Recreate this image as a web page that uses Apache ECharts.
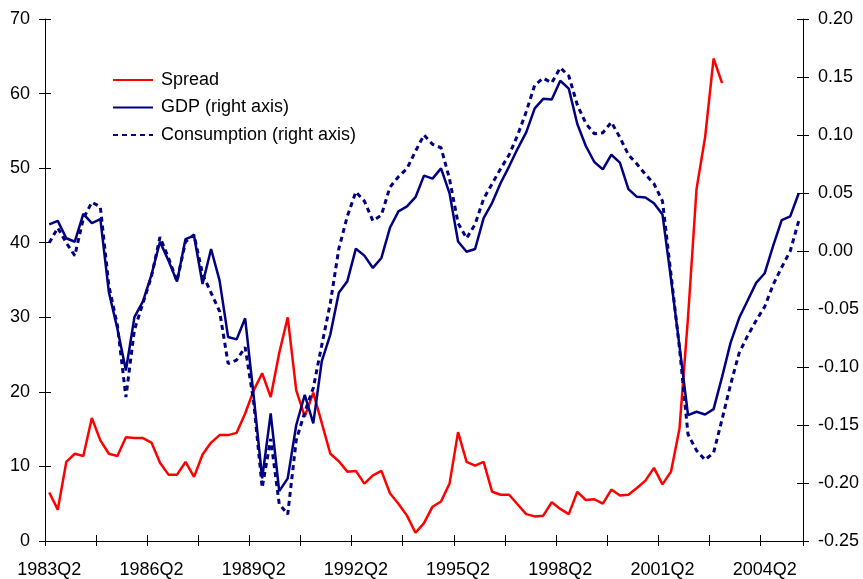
<!DOCTYPE html>
<html>
<head>
<meta charset="utf-8">
<script src="https://cdn.jsdelivr.net/npm/echarts@6/dist/echarts.min.js"></script>
<style>
html,body{margin:0;padding:0;background:#fff;}
#chart{width:863px;height:579px;}
</style>
</head>
<body>
<div id="chart"></div>
<script>
// Quarter categories 1983Q2 .. 2005Q2
const quarters = [];
for (let y = 1983; y <= 2005; y++) {
  for (let q = 1; q <= 4; q++) {
    if (y === 1983 && q < 2) continue;
    if (y === 2005 && q > 2) continue;
    quarters.push(y + 'Q' + q);
  }
}
const leftTicks = [0, 10, 20, 30, 40, 50, 60, 70];
const rightTicks = [-0.25, -0.20, -0.15, -0.10, -0.05, 0.00, 0.05, 0.10, 0.15, 0.20];

const spread = [6.5, 4.2, 10.6, 11.7, 11.4, 16.5, 13.5, 11.7, 11.4, 13.9,
  13.8, 13.8, 13.2, 10.5, 8.9, 8.9, 10.6, 8.6, 11.6, 13.2,
  14.2, 14.2, 14.5, 17.1, 20.2, 22.5, 19.3, 25.2, 30.0, 20.2,
  16.7, 19.9, 15.8, 11.7, 10.7, 9.3, 9.4, 7.7, 8.8, 9.4,
  6.4, 5.0, 3.4, 1.1, 2.4, 4.6, 5.3, 7.7, 14.6, 10.6,
  10.1, 10.6, 6.6, 6.2, 6.2, 4.9, 3.6, 3.3, 3.4, 5.2,
  4.3, 3.6, 6.6, 5.5, 5.6, 5.0, 6.9, 6.1, 6.2, 7.1,
  8.1, 9.8, 7.6, 9.3, 15.1, 30.0, 47.2, 54.1, 64.7, 61.4];

const gdp = [0.023, 0.026, 0.011, 0.008, 0.032, 0.024, 0.0275, -0.0355, -0.067, -0.103,
  -0.057, -0.0435, -0.0206, 0.008, -0.0083, -0.0264, 0.0103, 0.0132, -0.0284, 0.0017,
  -0.0255, -0.0742, -0.0762, -0.058, -0.125, -0.196, -0.140, -0.207, -0.196, -0.150,
  -0.124, -0.1486, -0.095, -0.072, -0.036, -0.026, 0.002, -0.004, -0.0146, -0.006,
  0.020, 0.0342, 0.0384, 0.0464, 0.065, 0.0624, 0.0712, 0.0497, 0.0082, -0.0006,
  0.0017, 0.0283, 0.0415, 0.0586, 0.073, 0.0883, 0.1023, 0.123, 0.1312, 0.1306,
  0.1468, 0.140, 0.1095, 0.0905, 0.0767, 0.0704, 0.083, 0.0762, 0.0533, 0.0467,
  0.0461, 0.0412, 0.0315, -0.024, -0.082, -0.1415, -0.1386, -0.1409, -0.1363, -0.1085,
  -0.079, -0.0578, -0.0427, -0.0275, -0.0192, 0.0046, 0.0266, 0.0298, 0.0498];

const consumption = [0.007, 0.020, 0.007, -0.004, 0.028, 0.042, 0.038, -0.030, -0.064, -0.126,
  -0.068, -0.045, -0.022, 0.012, -0.006, -0.026, 0.008, 0.014, -0.020, -0.036,
  -0.052, -0.097, -0.094, -0.083, -0.130, -0.204, -0.162, -0.218, -0.227, -0.163,
  -0.139, -0.118, -0.081, -0.045, 0.002, 0.030, 0.051, 0.043, 0.026, 0.031,
  0.055, 0.064, 0.071, 0.086, 0.100, 0.092, 0.089, 0.062, 0.024, 0.011,
  0.023, 0.045, 0.058, 0.071, 0.083, 0.100, 0.120, 0.143, 0.149, 0.145,
  0.158, 0.151, 0.126, 0.110, 0.101, 0.102, 0.111, 0.098, 0.083, 0.075,
  0.066, 0.058, 0.043, -0.020, -0.084, -0.158, -0.172, -0.180, -0.174, -0.145,
  -0.115, -0.088, -0.073, -0.060, -0.048, -0.029, -0.014, 0.000, 0.026];

const FONT = '"Liberation Sans", Arial, sans-serif';
const axisColor = '#000';

const chart = echarts.init(document.getElementById('chart'), null, {renderer: 'canvas'});

const xBase = {
  type: 'category',
  data: quarters,
  boundaryGap: true,
  position: 'bottom',
  splitLine: {show: false}
};
const leftBase = {type: 'value', position: 'left', min: leftTicks[0], max: leftTicks[leftTicks.length - 1], interval: 10, splitLine: {show: false}};
const rightBase = {type: 'value', position: 'right', min: rightTicks[0], max: rightTicks[rightTicks.length - 1], interval: 0.05, splitLine: {show: false}};

chart.setOption({
  animation: false,
  backgroundColor: '#fff',
  textStyle: {fontFamily: FONT},
  grid: {left: 45, right: 60, top: 19, bottom: 36, containLabel: false},
  legend: {
    orient: 'vertical',
    left: 107,
    top: 66,
    itemWidth: 40,
    itemHeight: 14,
    itemGap: 9.5,
    itemStyle: {opacity: 0},
    textStyle: {fontFamily: FONT, fontSize: 18, color: '#000', lineHeight: 18, padding: [0, 0, 0, 3]},
    data: ['Spread', 'GDP (right axis)', 'Consumption (right axis)']
  },
  xAxis: [
    Object.assign({}, xBase, {
      axisLine: {show: true, onZero: false, lineStyle: {color: axisColor, width: 1}},
      axisTick: {show: true, inside: false, length: 5, interval: (i) => i % 6 === 0, lineStyle: {color: axisColor}},
      axisLabel: {show: true, interval: (i) => i % 12 === 0, margin: 20, fontSize: 18, color: '#000', fontFamily: FONT}
    }),
    Object.assign({}, xBase, {
      axisLine: {show: false, onZero: false},
      axisTick: {show: true, inside: true, length: 6, interval: (i) => i % 6 === 0, lineStyle: {color: axisColor}},
      axisLabel: {show: false}
    })
  ],
  yAxis: [
    Object.assign({}, leftBase, {
      axisLine: {show: true, onZero: false, lineStyle: {color: axisColor, width: 1}},
      axisTick: {show: true, inside: false, length: 6, lineStyle: {color: axisColor}},
      axisLabel: {show: true, margin: 15, fontSize: 18, color: '#000', fontFamily: FONT, formatter: (v) => String(Math.round(v))}
    }),
    Object.assign({}, rightBase, {
      axisLine: {show: true, onZero: false, lineStyle: {color: axisColor, width: 1}},
      axisTick: {show: true, inside: false, length: 6, lineStyle: {color: axisColor}},
      axisLabel: {show: true, margin: 15, fontSize: 18, color: '#000', fontFamily: FONT, formatter: (v) => (Math.abs(v) < 1e-9 ? 0 : v).toFixed(2)}
    }),
    Object.assign({}, leftBase, {
      axisLine: {show: false, onZero: false},
      axisTick: {show: true, inside: true, length: 6, lineStyle: {color: axisColor}},
      axisLabel: {show: false}
    }),
    Object.assign({}, rightBase, {
      axisLine: {show: false, onZero: false},
      axisTick: {show: true, inside: true, length: 6, lineStyle: {color: axisColor}},
      axisLabel: {show: false}
    })
  ],
  series: [
    {
      name: 'Spread', type: 'line', xAxisIndex: 0, yAxisIndex: 0,
      data: spread, symbol: 'none', showSymbol: false,
      lineStyle: {color: '#ff0000', width: 2.5}, itemStyle: {color: '#ff0000'}
    },
    {
      name: 'GDP (right axis)', type: 'line', xAxisIndex: 0, yAxisIndex: 1,
      data: gdp, symbol: 'none', showSymbol: false,
      lineStyle: {color: '#000080', width: 2.5}, itemStyle: {color: '#000080'}
    },
    {
      name: 'Consumption (right axis)', type: 'line', xAxisIndex: 0, yAxisIndex: 1,
      data: consumption, symbol: 'none', showSymbol: false,
      lineStyle: {color: '#000080', width: 3, type: [5, 4]}, itemStyle: {color: '#000080'}
    }
  ]
});
</script>
</body>
</html>
